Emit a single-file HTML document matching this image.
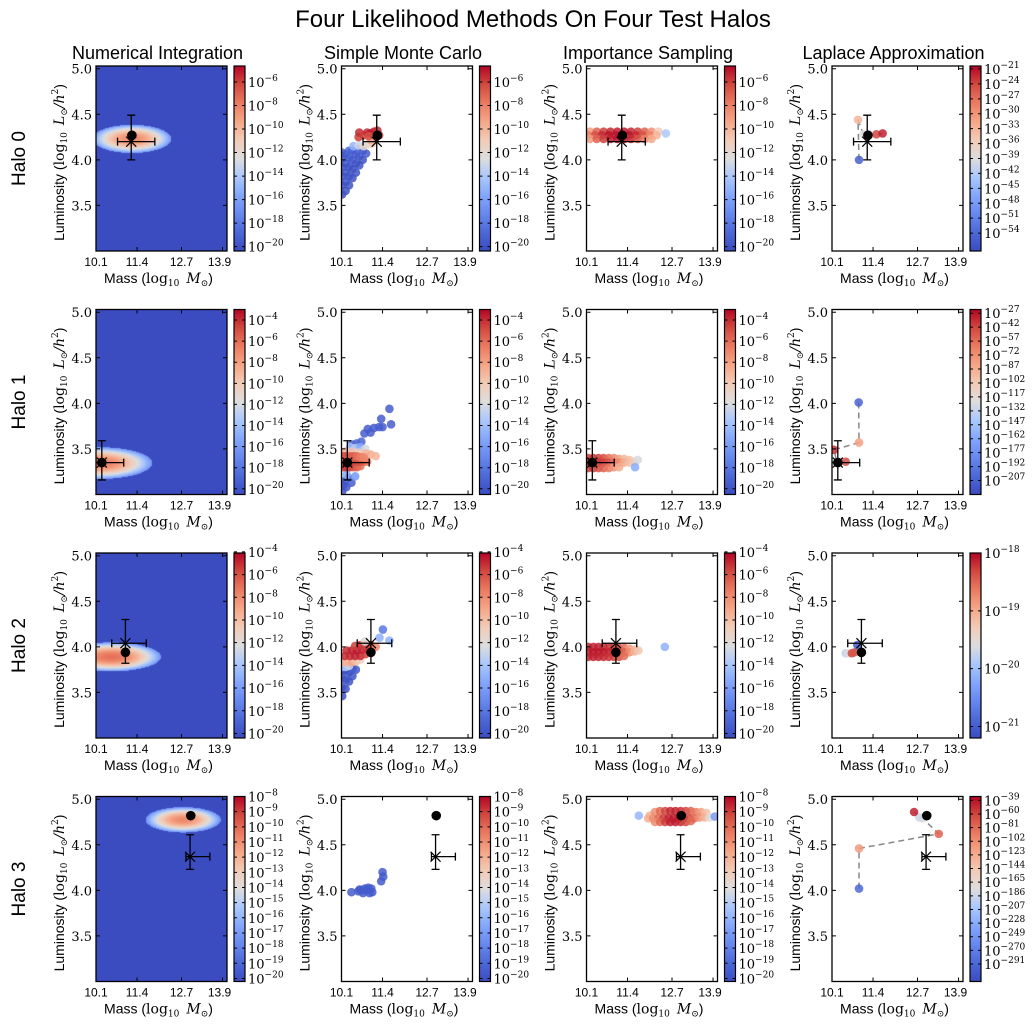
<!DOCTYPE html>
<html><head><meta charset="utf-8">
<style>
html,body{margin:0;padding:0;background:#fff;}
#wrap{position:relative;width:1032px;height:1025px;overflow:hidden;background:#fff;}
canvas{position:absolute;}
svg{position:absolute;left:0;top:0;}
</style></head>
<body>
<div id="wrap">
<svg id="chart" width="1032" height="1025"></svg>
</div>
<script>
// ---------- data ----------
const methods = ["Numerical Integration","Simple Monte Carlo","Importance Sampling","Laplace Approximation"];
const halos = ["Halo 0","Halo 1","Halo 2","Halo 3"];
const xTicks = [10.2, 11.4, 12.7, 13.9];
const xTickLabels = ["10.1","11.4","12.7","13.9"];
const yTicks = [3.5, 4.0, 4.5, 5.0];
const yTickLabels = ["3.5","4.0","4.5","5.0"];
const truthPts = [[11.23,4.20],[10.37,3.35],[11.06,4.04],[12.95,4.37]];
const truthErr = [[0.40,0.69,0.20,0.29],[0.45,0.64,0.19,0.24],[0.40,0.61,0.22,0.26],[0.12,0.58,0.14,0.24]];
const bestPts = [[11.25,4.27],[10.37,3.35],[11.06,3.94],[12.97,4.82]];
const niCenter = [[11.25,4.23],[10.3,3.35],[10.65,3.89],[12.75,4.78]];
const niHalf = [[1.15,0.155],[1.55,0.175],[1.45,0.16],[1.1,0.14]];
const niPeak = [-8.3,-6.5,-7,-10.8];
const niEdge = [-16.5,-16.5,-16.5,-17.5];
const cbRange = [[-20.37,-4.64],[-20.54,-3.0],[-20.4,-4.1],[-20.2,-8.0]];
const cbTicks = [[-6,-8,-10,-12,-14,-16,-18,-20],[-4,-6,-8,-10,-12,-14,-16,-18,-20],[-4,-6,-8,-10,-12,-14,-16,-18,-20],[-8,-9,-10,-11,-12,-13,-14,-15,-16,-17,-18,-19,-20]];
const lapRange = [[-57.6,-20.4],[-222,-23],[-21.2,-18.0],[-318,-33]];
const lapTicks = [[-21,-24,-27,-30,-33,-36,-39,-42,-45,-48,-51,-54],[-27,-42,-57,-72,-87,-102,-117,-132,-147,-162,-177,-192,-207],[-18,-19,-20,-21],[-39,-60,-81,-102,-123,-144,-165,-186,-207,-228,-249,-270,-291]];

const mcHalo0 = [
[10.22,3.62,-20],[10.22,3.72,-20],[10.22,3.82,-20],[10.22,3.92,-20],[10.22,4.02,-19.5],[10.22,4.08,-19],
[10.32,3.66,-20],[10.32,3.76,-20],[10.32,3.86,-20],[10.32,3.96,-20],[10.32,4.06,-19.5],
[10.42,3.72,-20],[10.42,3.82,-20],[10.42,3.92,-20],[10.42,4.02,-19.5],[10.42,4.1,-19],
[10.52,3.8,-20],[10.52,3.9,-20],[10.52,4.0,-19.5],[10.52,4.1,-19],
[10.62,3.86,-20],[10.62,3.96,-20],[10.62,4.06,-19.5],
[10.72,3.94,-20],[10.72,4.04,-19.5],[10.72,4.12,-18.5],
[10.82,4.0,-20],[10.82,4.1,-19],[10.92,4.07,-19.5],
[10.55,4.15,-15],[10.7,4.16,-13],[10.85,4.15,-12],[11.0,4.17,-12],[11.1,4.18,-11],
[11.05,4.22,-9.5],[11.15,4.21,-10],[11.2,4.25,-9],
[10.7,4.25,-6],[10.72,4.3,-5.5],[10.85,4.27,-6],[10.95,4.3,-5.5],[11.05,4.29,-5],[11.15,4.31,-5.2],[11.25,4.32,-5.5],[11.3,4.27,-6],[11.0,4.26,-6.5]];
const mcHalo1 = [
[10.3,3.15,-20],[10.34,3.08,-20],[10.22,3.03,-20],[10.49,3.13,-19.5],[10.25,3.1,-20],[10.4,3.18,-19],
[10.6,3.2,-16],[10.35,3.22,-15],
[10.5,3.55,-19],[10.64,3.56,-19],[10.78,3.58,-19],[10.87,3.67,-19.5],[10.97,3.72,-19.5],[11.15,3.73,-19.5],[11.3,3.74,-19.5],[11.4,3.74,-19.5],[11.36,3.83,-19.5],[11.65,3.77,-19.5],[11.6,3.94,-19.5],[11.05,3.68,-19.5],
[10.45,3.52,-14],[10.6,3.51,-13],[10.75,3.52,-15],[10.9,3.5,-12],
[10.3,3.47,-9],[10.5,3.47,-9.5],[10.7,3.46,-10],[10.9,3.45,-9],[11.05,3.44,-8.5],[11.2,3.42,-9],
[10.25,3.3,-4.5],[10.35,3.3,-4.2],[10.45,3.3,-4.5],[10.55,3.3,-5],[10.65,3.3,-5.5],[10.75,3.31,-6],
[10.25,3.36,-4],[10.35,3.36,-4],[10.45,3.36,-4.2],[10.55,3.36,-4.5],[10.65,3.36,-5],[10.75,3.36,-5],[10.85,3.36,-5.5],[10.95,3.36,-6.5],
[10.25,3.42,-5],[10.35,3.42,-5],[10.45,3.42,-5.5],[10.55,3.42,-5.5],[10.65,3.42,-6],[10.75,3.41,-6.5],[10.85,3.41,-7]];
const mcHalo2 = [
[10.22,3.46,-20],[10.22,3.56,-20],[10.22,3.66,-20],[10.22,3.74,-20],[10.32,3.54,-20],[10.32,3.64,-20],[10.32,3.74,-20],
[10.42,3.62,-20],[10.42,3.72,-20],[10.52,3.68,-20],[10.52,3.76,-19.5],[10.62,3.75,-19.5],
[10.22,3.78,-15],[10.32,3.78,-14],[10.42,3.79,-13],
[10.22,3.83,-10],[10.35,3.83,-9.5],[10.5,3.83,-9],[10.62,3.84,-10],[10.75,3.86,-11],
[10.3,3.9,-5],[10.45,3.9,-5],[10.6,3.9,-4.8],[10.75,3.9,-5],[10.9,3.92,-5.5],
[10.35,3.96,-5],[10.5,3.96,-4.8],[10.65,3.96,-4.5],[10.8,3.97,-4.8],[10.95,3.97,-5.2],[11.1,3.98,-5.5],
[10.6,4.01,-5.5],[10.75,4.02,-5.2],[10.9,4.02,-5.5],[11.05,4.02,-6],[11.2,4.0,-8],
[10.88,4.06,-12],[11.31,4.1,-15],[11.41,4.19,-18],[11.6,4.07,-15]];
const mcHalo3 = [
[10.49,3.98,-19.5],[10.69,3.99,-19.5],[10.73,4.01,-19.5],[10.78,4.0,-19.5],[10.83,3.97,-19.5],[10.88,4.02,-19.5],[10.93,4.0,-19.5],[10.98,4.03,-19.5],[11.02,3.97,-19.5],[11.07,4.02,-19.5],[11.1,3.98,-19.5],[11.36,4.1,-19.5],[11.42,4.15,-19.5],[11.4,4.2,-19.5]];
const isHalo0 = [
[10.3,4.31,-9],[10.5,4.31,-7],[10.7,4.31,-6],[10.9,4.31,-5.5],[11.1,4.31,-5.2],[11.3,4.31,-5.2],[11.5,4.31,-5.5],[11.7,4.31,-6],[11.9,4.31,-7],[12.1,4.31,-8.5],[12.3,4.31,-11],
[10.25,4.27,-8],[10.45,4.27,-6.5],[10.65,4.27,-5.5],[10.85,4.27,-5],[11.05,4.27,-5],[11.25,4.27,-5],[11.45,4.27,-5],[11.65,4.27,-5.5],[11.85,4.27,-6.5],[12.05,4.27,-8],[12.25,4.27,-10],
[10.3,4.23,-9],[10.5,4.23,-7],[10.7,4.23,-6],[10.9,4.23,-5.3],[11.1,4.23,-5],[11.3,4.23,-5.2],[11.5,4.23,-5.5],[11.7,4.23,-6.5],[11.9,4.23,-8],[12.1,4.23,-9.5],
[12.52,4.29,-14]];
const isHalo1 = [
[10.25,3.40,-4.5],[10.4,3.40,-4.2],[10.55,3.40,-4.5],[10.7,3.40,-5],[10.85,3.40,-6],[11.0,3.40,-7],[11.15,3.39,-8],[11.3,3.39,-9],[11.45,3.38,-9.5],
[10.25,3.35,-4],[10.4,3.35,-4],[10.55,3.35,-4.2],[10.7,3.35,-4.5],[10.85,3.35,-5],[11.0,3.35,-6],[11.15,3.35,-7],[11.3,3.35,-8.5],[11.45,3.35,-9.5],[11.58,3.36,-10],
[10.25,3.29,-4.5],[10.4,3.29,-4.5],[10.55,3.29,-5],[10.7,3.29,-5.5],[10.85,3.29,-6.5],[11.0,3.3,-7.5],[11.15,3.3,-8.5],
[11.7,3.38,-12],[11.62,3.3,-15]];
const isHalo2 = [
[10.25,4.0,-5],[10.4,4.0,-4.8],[10.55,4.0,-4.8],[10.7,4.0,-5],[10.85,4.0,-5.2],[11.0,4.0,-5.5],[11.15,3.99,-6],[11.3,3.99,-7],[11.45,3.98,-8.5],[11.62,3.97,-10],
[10.25,3.94,-4.8],[10.4,3.94,-4.5],[10.55,3.94,-4.5],[10.7,3.94,-4.5],[10.85,3.94,-4.8],[11.0,3.94,-5],[11.15,3.94,-5.5],[11.3,3.94,-6.5],[11.45,3.94,-8],[11.6,3.95,-9.5],[11.72,3.96,-10.5],
[10.25,3.89,-5],[10.4,3.89,-4.8],[10.55,3.89,-4.8],[10.7,3.89,-5],[10.85,3.89,-5.2],[11.0,3.89,-5.5],[11.15,3.89,-6],[11.3,3.9,-7],
[12.49,4.0,-15]];
const isHalo3 = [
[12.05,4.82,-12],[12.2,4.86,-11],[12.35,4.87,-10],[12.5,4.87,-9.2],[12.65,4.87,-8.7],[12.8,4.87,-8.6],[12.95,4.87,-8.8],[13.1,4.87,-9.2],[13.25,4.87,-9.8],[13.4,4.86,-10.5],[13.55,4.86,-11.5],[13.7,4.85,-12.5],
[12.0,4.79,-12],[12.15,4.79,-11],[12.3,4.79,-10],[12.45,4.79,-9],[12.6,4.79,-8.5],[12.75,4.79,-8.3],[12.9,4.79,-8.4],[13.05,4.79,-8.7],[13.2,4.79,-9.2],[13.35,4.79,-10],[13.5,4.8,-11],[13.65,4.8,-12],[13.8,4.8,-14],
[12.2,4.75,-11],[12.35,4.75,-10],[12.5,4.75,-9],[12.65,4.75,-8.5],[12.8,4.75,-8.4],[12.95,4.75,-8.7],[13.1,4.75,-9.2],[13.25,4.76,-10],
[11.73,4.82,-16],[13.95,4.81,-17]];
const lapHalo0 = [[10.99,4.0,-55,1],[10.96,4.44,-33,1],[11.12,4.28,-39,1],[11.2,4.27,-40,0],[11.28,4.28,-41,0],[11.25,4.27,-38,1],[11.5,4.28,-24,1],[11.68,4.29,-22,1]];
const lapHalo1 = [[10.98,4.01,-207,1],[10.99,3.57,-80,1],[10.26,3.49,-35,1],[10.34,3.35,-125,1],[10.42,3.36,-130,0],[10.6,3.36,-45,1]];
const lapHalo2 = [[10.6,3.93,-19.8,0],[10.68,3.93,-19.6,0],[10.78,3.93,-18.3,1],[10.86,3.94,-18.4,1],[10.94,4.02,-21,1]];
const lapHalo3 = [[10.99,4.02,-290,1],[10.99,4.46,-110,1],[13.32,4.62,-75,1],[12.85,4.79,-175,1],[12.75,4.8,-185,0],[12.6,4.86,-45,1]];
const mcData = [mcHalo0, mcHalo1, mcHalo2, mcHalo3];
const isData = [isHalo0, isHalo1, isHalo2, isHalo3];
const lapData = [lapHalo0, lapHalo1, lapHalo2, lapHalo3];

// ---------- layout ----------
const colLeft = [96, 341.5, 586.5, 832];
const rowTop = [66, 309.5, 553, 796.5];
const PW = 131, PH = 185, CBOFF = 138, CBW = 11;
const XMIN = 10.2, XMAX = 14.03, YMIN = 3.0, YMAX = 5.03;
const NS = "http://www.w3.org/2000/svg";
const SERIF = '"DejaVu Serif","Liberation Serif",serif';
const SANS = '"Liberation Sans",sans-serif';
const CM = [[0,59,76,192],[0.1,77,104,215],[0.2,103,136,238],[0.3,132,166,251],[0.4,170,199,253],[0.5,221,221,221],[0.6,242,203,183],[0.7,245,166,135],[0.8,234,123,96],[0.9,209,73,63],[1,180,4,38]];
function cmap(t){
  t = Math.max(0, Math.min(1, t));
  for (let i = 1; i < CM.length; i++) {
    if (t <= CM[i][0]) {
      const a = CM[i-1], b = CM[i], f = (t - a[0])/(b[0]-a[0]);
      return [a[1]+(b[1]-a[1])*f, a[2]+(b[2]-a[2])*f, a[3]+(b[3]-a[3])*f];
    }
  }
  return [180,4,38];
}
function rgb(c){ return 'rgb('+c.map(v=>Math.round(v)).join(',')+')'; }
function sx(c, v){ return colLeft[c] + (v - XMIN)/(XMAX - XMIN)*PW; }
function sy(r, v){ return rowTop[r] + (YMAX - v)/(YMAX - YMIN)*PH; }
function mk(tag, parent){ const e = document.createElementNS(NS, tag); parent.appendChild(e); return e; }
function att(e, o){ for (const k in o) e.setAttribute(k, o[k]); return e; }
const svg = document.getElementById('chart');
const wrap = document.getElementById('wrap');
const defs = mk('defs', svg);

// title
let t = mk('text', svg);
att(t, {x: 533, y: 27, 'text-anchor': 'middle', 'font-family': SANS, 'font-size': 24});
t.textContent = "Four Likelihood Methods On Four Test Halos";



methods.forEach((m, c) => {
  const e = mk('text', svg);
  att(e, {x: colLeft[c] + PW/2 - 4, y: 59, 'text-anchor': 'middle', 'font-family': SANS, 'font-size': 18});
  e.textContent = m;
  
  
});
halos.forEach((h, r) => {
  const e = mk('text', svg);
  att(e, {transform: 'translate(25,' + (rowTop[r] + PH/2) + ') rotate(-90)', 'text-anchor': 'middle', 'font-family': SANS, 'font-size': 19});
  e.textContent = h;
  
  
});

function colorbar(g, c, r, range, ticks, id){
  const x0 = colLeft[c] + CBOFF, y0 = rowTop[r];
  const grad = mk('linearGradient', defs);
  att(grad, {id: id, x1: 0, y1: 1, x2: 0, y2: 0});
  for (let i = 0; i <= 20; i++) {
    const s = mk('stop', grad);
    att(s, {offset: i/20, 'stop-color': rgb(cmap(i/20))});
  }
  const rect = mk('rect', g);
  att(rect, {x: x0, y: y0, width: CBW, height: PH, fill: 'url(#' + id + ')', stroke: '#000', 'stroke-width': 1.2});
  
  
  ticks.forEach(tv => {
    const yy = y0 + (range[1] - tv)/(range[1] - range[0])*PH;
    const l1 = mk('path', g);
    att(l1, {d: 'M' + x0 + ',' + yy + 'h3M' + (x0 + CBW) + ',' + yy + 'h-3', stroke: '#000', 'stroke-width': 1});
    
    
    const tx = mk('text', g);
    att(tx, {x: x0 + CBW + 3, y: yy + 5, 'font-family': SERIF, 'font-size': 13});
    const a = mk('tspan', tx); a.textContent = '10';
    const b = mk('tspan', tx); att(b, {dy: -6, 'font-size': 9}); b.textContent = '\u2212' + Math.abs(tv);
    
    
  });
}

function heatmap(c, r){
  const cv = document.createElement('canvas');
  cv.width = PW; cv.height = PH;
  cv.style.left = colLeft[c] + 'px'; cv.style.top = rowTop[r] + 'px';
  
  
  wrap.insertBefore(cv, svg);
  const ctx = cv.getContext('2d');
  const img = ctx.createImageData(PW, PH);
  const rg = cbRange[r];
  for (let j = 0; j < PH; j++) for (let i = 0; i < PW; i++) {
    const xv = XMIN + (i + 0.5)/PW*(XMAX - XMIN);
    const yv = YMAX - (j + 0.5)/PH*(YMAX - YMIN);
    const dx = (xv - niCenter[r][0])/niHalf[r][0], dy = (yv - niCenter[r][1])/niHalf[r][1];
    const r2 = dx*dx + dy*dy;
    const v = r2 <= 1 ? niPeak[r] - (niPeak[r] - niEdge[r])*r2 : rg[0];
    const col = cmap((v - rg[0])/(rg[1] - rg[0]));
    const k = (j*PW + i)*4;
    img.data[k] = col[0]; img.data[k+1] = col[1]; img.data[k+2] = col[2]; img.data[k+3] = 255;
  }
  ctx.putImageData(img, 0, 0);
}

function overlay(g, c, r){
  const [tx, ty] = truthPts[r], e = truthErr[r];
  const X = sx(c, tx), Y = sy(r, ty);
  const xl = sx(c, tx - e[0]), xr = sx(c, tx + e[1]), yd = sy(r, ty - e[2]), yu = sy(r, ty + e[3]);
  const eb = mk('path', g);
  att(eb, {d: 'M' + xl + ',' + Y + 'H' + xr + 'M' + xl + ',' + (Y-4) + 'v8M' + xr + ',' + (Y-4) + 'v8M' + X + ',' + yd + 'V' + yu + 'M' + (X-4) + ',' + yd + 'h8M' + (X-4) + ',' + yu + 'h8', stroke: '#000', 'stroke-width': 1.3, fill: 'none'});
  
  
  const mx = mk('path', g);
  att(mx, {d: 'M' + (X-5) + ',' + (Y-5) + 'l10,10M' + (X-5) + ',' + (Y+5) + 'l10,-10', stroke: '#000', 'stroke-width': 1.2});
  
  
  const d = mk('circle', g);
  att(d, {cx: sx(c, bestPts[r][0]), cy: sy(r, bestPts[r][1]), r: 4.8, fill: '#000'});
  
  
}

function scatter(g, c, r, pts, range){
  pts.forEach(p => {
    const ci = mk('circle', g);
    att(ci, {cx: sx(c, p[0]), cy: sy(r, p[1]), r: 4.3, fill: rgb(cmap((p[2]-range[0])/(range[1]-range[0]))), 'fill-opacity': 0.85});
    
    
  });
}

for (let r = 0; r < 4; r++) {
  for (let c = 0; c < 4; c++) {
    const g = mk('g', svg);
    
    
    const L = colLeft[c], T = rowTop[r];
    const cp = mk('clipPath', defs); att(cp, {id: 'clip' + r + c});
    const cr = mk('rect', cp); att(cr, {x: L, y: T, width: PW, height: PH});
    const inner = mk('g', g); att(inner, {'clip-path': 'url(#clip' + r + c + ')'});
    
    
    if (c === 0) heatmap(c, r);
    if (c === 1) scatter(inner, c, r, mcData[r], cbRange[r]);
    if (c === 2) scatter(inner, c, r, isData[r], cbRange[r]);
    if (c === 3) {
      const pts = lapData[r].filter(p => p[3] === 1);
      const pl = mk('polyline', inner);
      att(pl, {points: pts.map(p => sx(c, p[0]) + ',' + sy(r, p[1])).join(' '), fill: 'none', stroke: '#888', 'stroke-width': 1.5, 'stroke-dasharray': '6,4'});
      
      
      scatter(inner, c, r, lapData[r], lapRange[r]);
    }
    overlay(inner, c, r);
    // frame
    const fr = mk('rect', g);
    att(fr, {x: L, y: T, width: PW, height: PH, fill: 'none', stroke: '#000', 'stroke-width': 1.3});
    
    
    xTicks.forEach((v, i) => {
      const X = sx(c, v);
      const tk = mk('path', g);
      att(tk, {d: 'M' + X + ',' + (T+PH) + 'v-4M' + X + ',' + T + 'v4', stroke: '#000', 'stroke-width': 1});
      
      
      const lb = mk('text', g);
      att(lb, {x: X + (i === 3 ? -3 : 0), y: T + PH + 15, 'text-anchor': 'middle', 'font-family': SANS, 'font-size': 12});
      lb.textContent = xTickLabels[i];
      
      
    });
    yTicks.forEach((v, i) => {
      const Y = sy(r, v);
      const tk = mk('path', g);
      att(tk, {d: 'M' + L + ',' + Y + 'h4M' + (L+PW) + ',' + Y + 'h-4', stroke: '#000', 'stroke-width': 1});
      
      
      const lb = mk('text', g);
      att(lb, {x: L - 4, y: Y + 5, 'text-anchor': 'end', 'font-family': SERIF, 'font-size': 13});
      lb.textContent = yTickLabels[i];
      
      
    });
    // x label
    const xl = mk('text', g);
    att(xl, {x: L + PW/2 - 3, y: T + PH + 32, 'text-anchor': 'middle', 'font-family': SANS, 'font-size': 14});
    let s = mk('tspan', xl); s.textContent = 'Mass (';
    s = mk('tspan', xl); att(s, {'font-family': SERIF}); s.textContent = 'log';
    s = mk('tspan', xl); att(s, {'font-family': SERIF, 'font-size': 9, dy: 3}); s.textContent = '10';
    s = mk('tspan', xl); att(s, {'font-family': SERIF, 'font-style': 'italic', dy: -3}); s.textContent = '\u2002M';
    s = mk('tspan', xl); att(s, {'font-family': SERIF, 'font-size': 9, dy: 3}); s.textContent = '\u2299';
    s = mk('tspan', xl); att(s, {dy: -3}); s.textContent = ')';
    
    
    // y label
    const yl = mk('text', g);
    att(yl, {transform: 'translate(' + (L - 32) + ',' + (T + PH/2 + 4) + ') rotate(-90)', 'text-anchor': 'middle', 'font-family': SANS, 'font-size': 14});
    s = mk('tspan', yl); s.textContent = 'Luminosity (';
    s = mk('tspan', yl); att(s, {'font-family': SERIF}); s.textContent = 'log';
    s = mk('tspan', yl); att(s, {'font-family': SERIF, 'font-size': 9, dy: 3}); s.textContent = '10';
    s = mk('tspan', yl); att(s, {'font-family': SERIF, 'font-style': 'italic', dy: -3}); s.textContent = '\u2002L';
    s = mk('tspan', yl); att(s, {'font-family': SERIF, 'font-size': 9, dy: 3}); s.textContent = '\u2299';
    s = mk('tspan', yl); att(s, {'font-family': SERIF, 'font-style': 'italic', dy: -3}); s.textContent = '/h';
    s = mk('tspan', yl); att(s, {'font-family': SERIF, 'font-size': 9, dy: -6}); s.textContent = '2';
    s = mk('tspan', yl); att(s, {dy: 6}); s.textContent = ')';
    
    
    if (c < 3) colorbar(g, c, r, cbRange[r], cbTicks[r], 'cg' + r + c);
    else colorbar(g, c, r, lapRange[r], lapTicks[r], 'cg' + r + c);
  }
}
</script>
</body></html>
